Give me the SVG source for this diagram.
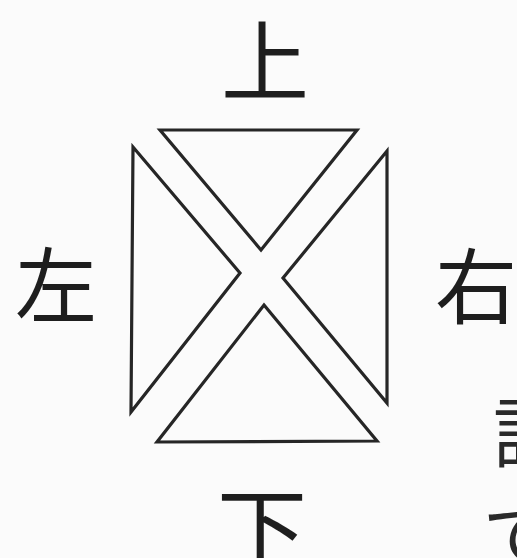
<svg xmlns="http://www.w3.org/2000/svg" width="517" height="558" viewBox="0 0 517 558">
<style>
.tri{fill:none;stroke:#262626;stroke-width:3.2;stroke-linejoin:miter}
.lbl{font-family:"Noto Sans CJK JP","Noto Sans CJK SC",sans-serif;fill:#1e1e1e;text-anchor:middle;dominant-baseline:central}
.part{font-family:"Noto Sans CJK JP","Noto Sans CJK SC",sans-serif;fill:#2a2a2a}
</style>
<rect width="517" height="558" fill="#fbfbfb"/>
<g id="shapes">
<polygon id="tri-top" class="tri" points="160,130 357,130 261,250"/>
<polygon id="tri-left" class="tri" points="133,147 240,273 131,412"/>
<polygon id="tri-right" class="tri" points="387,151 283,278 387,403"/>
<polygon id="tri-bottom" class="tri" points="264,305 377,441 157,442"/>
</g>
<g id="label-top"><text class="lbl" x="265" y="55" font-size="88">上</text></g>
<g id="label-left"><text class="lbl" x="56" y="280" font-size="82">左</text></g>
<g id="label-right"><text class="lbl" x="476" y="281" font-size="82">右</text></g>
<g id="label-bottom"><text class="lbl" x="262" y="524" font-size="90">下</text></g>
<g id="partial-text">
<text class="part" x="493" y="461" font-size="75">説</text>
<text class="part" x="483" y="562" font-size="72">で</text>
</g>
</svg>
